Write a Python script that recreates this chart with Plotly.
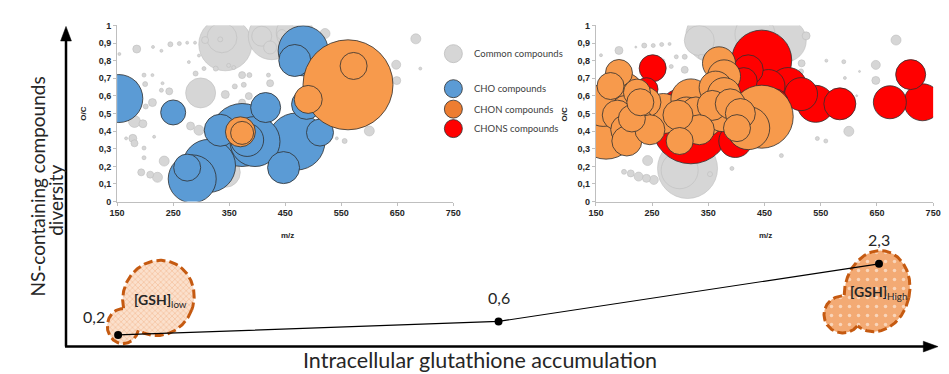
import numpy as np
import plotly.graph_objects as go

W, H = 949, 374

# ---------------- DATA ----------------
# Bubble panels: (m/z, O/C, relative abundance)
LOW_COMMON = [
    (343, 0.893, 53), (426, 0.939, 47), (467, 0.958, 37), (299, 0.617, 30), (343, 0.166, 30),
    (337, 0.930, 30), (408, 0.939, 20), (423, 0.875, 13), (185, 0.866, 8), (154, 0.838, 3),
    (214, 0.878, 3), (229, 0.856, 3), (245, 0.893, 5), (261, 0.897, 4), (275, 0.902, 3),
    (289, 0.902, 3), (307, 0.917, 7), (334, 0.921, 5), (521, 0.954, 10), (683, 0.924, 10),
    (648, 0.777, 9), (649, 0.687, 8), (691, 0.755, 3), (600, 0.401, 10), (556, 0.344, 5),
    (542, 0.359, 3), (180, 0.667, 7), (200, 0.667, 5), (198, 0.718, 4), (213, 0.718, 3),
    (231, 0.672, 3), (243, 0.626, 7), (229, 0.632, 4), (213, 0.562, 8), (163, 0.562, 3),
    (181, 0.455, 12), (196, 0.442, 8), (201, 0.540, 5), (178, 0.359, 8), (181, 0.331, 7),
    (198, 0.304, 4), (216, 0.368, 3), (281, 0.429, 8), (296, 0.405, 10), (193, 0.166, 7),
    (209, 0.153, 7), (222, 0.138, 10), (234, 0.230, 10), (198, 0.249, 4), (296, 0.304, 4),
    (290, 0.727, 5), (305, 0.755, 4), (278, 0.792, 3), (296, 0.829, 3), (326, 0.755, 5),
    (349, 0.773, 4), (358, 0.761, 4), (373, 0.718, 7), (386, 0.718, 5), (343, 0.608, 8),
    (360, 0.654, 5), (376, 0.663, 5), (385, 0.599, 7), (373, 0.562, 7), (420, 0.718, 4),
    (423, 0.672, 7), (491, 0.958, 10), (444, 0.948, 10), (166, 0.359, 3),
]
LOW_CHO = [
    (153, 0.585, 48), (250, 0.506, 25), (482, 0.856, 50), (467, 0.801, 32), (415, 0.534, 30),
    (488, 0.552, 30), (512, 0.392, 27), (334, 0.405, 32), (373, 0.378, 63), (396, 0.341, 50),
    (382, 0.350, 33), (470, 0.341, 57), (447, 0.193, 32), (314, 0.203, 53), (284, 0.129, 48),
    (275, 0.193, 27),
]
LOW_CHON = [
    (562, 0.663, 90), (572, 0.770, 27), (491, 0.580, 28), (370, 0.396, 30), (373, 0.390, 23),
]

HIGH_COMMON = [
    (357, 0.941, 53), (433, 0.950, 40), (486, 0.914, 43), (313, 0.188, 60), (299, 0.178, 37),
    (334, 0.914, 30), (524, 0.941, 8), (191, 0.858, 8), (159, 0.831, 3), (221, 0.877, 2),
    (236, 0.886, 5), (252, 0.886, 4), (267, 0.892, 4), (281, 0.895, 3), (293, 0.822, 4),
    (308, 0.822, 5), (284, 0.767, 4), (270, 0.800, 3), (200, 0.169, 5), (212, 0.160, 7),
    (226, 0.142, 9), (240, 0.132, 8), (253, 0.123, 9), (242, 0.233, 10), (353, 0.156, 5),
    (392, 0.188, 4), (480, 0.261, 4), (544, 0.358, 4), (559, 0.344, 4), (600, 0.399, 10),
    (648, 0.776, 9), (648, 0.688, 8), (684, 0.917, 10), (619, 0.739, 2), (593, 0.702, 3),
    (560, 0.800, 3), (591, 0.794, 4), (614, 0.601, 2), (516, 0.785, 7), (515, 0.739, 5),
    (308, 0.748, 7), (337, 0.822, 5),
]
HIGH_CHONS = [
    (445, 0.803, 60), (421, 0.748, 30), (251, 0.757, 27), (319, 0.436, 78), (240, 0.638, 23),
    (398, 0.344, 33), (492, 0.656, 37), (515, 0.610, 33), (541, 0.555, 37), (584, 0.555, 32),
    (710, 0.721, 30), (673, 0.564, 33), (731, 0.564, 37), (457, 0.656, 33), (413, 0.684, 27),
    (468, 0.564, 27),
]
HIGH_CHON = [
    (168, 0.417, 62), (163, 0.546, 42), (191, 0.730, 27), (205, 0.642, 30), (223, 0.619, 27),
    (239, 0.564, 30), (203, 0.518, 30), (188, 0.491, 30), (214, 0.472, 27), (203, 0.408, 30),
    (226, 0.445, 30), (205, 0.344, 30), (246, 0.408, 30), (270, 0.500, 40), (299, 0.344, 27),
    (319, 0.583, 40), (311, 0.500, 33), (328, 0.509, 30), (346, 0.463, 33), (357, 0.546, 30),
    (369, 0.785, 33), (378, 0.711, 33), (363, 0.647, 33), (378, 0.610, 33), (389, 0.555, 30),
    (334, 0.408, 30), (375, 0.491, 33), (401, 0.417, 27), (407, 0.500, 30), (445, 0.482, 63),
    (421, 0.417, 43), (296, 0.491, 30), (229, 0.564, 27), (176, 0.656, 27),
]

# Main schematic axis: glutathione level vs NS-compound diversity
CONDITIONS = ["[GSH]low", "intermediate", "[GSH]High"]
COND_POS = [1, 2, 3]
NS_DIVERSITY = [0.2, 0.6, 2.3]

MZ_TICKS = [150, 250, 350, 450, 550, 650, 750]

LEGEND_LABELS = ["Common compounds", "CHO compounds", "CHON compounds", "CHONS compounds"]

# ---------------- STYLE ----------------
GREY, GREY_LINE = "#d6d6d6", "#bdbdbd"
BLUE, ORANGE, RED = "#5b9bd5", "#f79a4c", "#ff0000"
DARK_LINE = "#2e2e2e"
TXT = "#262626"
SANS = "Liberation Sans"
HUM = "Lato"

X_RANGE = [0.7106, 3.163]
Y_RANGE = [-0.805, 9.943]


def px2x(p):
    return X_RANGE[0] + p / W * (X_RANGE[1] - X_RANGE[0])


def py2y(p):
    return Y_RANGE[1] - p / H * (Y_RANGE[1] - Y_RANGE[0])


def bubble(rows, color, line_color, line_w, xa, ya):
    rows = sorted(rows, key=lambda r: -r[2])
    return go.Scatter(
        x=[r[0] for r in rows], y=[r[1] for r in rows], mode="markers",
        xaxis=xa, yaxis=ya, hoverinfo="skip",
        marker=dict(size=[r[2] for r in rows], sizemode="diameter", sizeref=1,
                    color=color, opacity=1, line=dict(color=line_color, width=line_w)),
    )


fig = go.Figure()
fig.add_trace(bubble(LOW_COMMON, GREY, GREY_LINE, 0.6, "x", "y"))
fig.add_trace(bubble(LOW_CHO, BLUE, DARK_LINE, 0.8, "x", "y"))
fig.add_trace(bubble(LOW_CHON, ORANGE, DARK_LINE, 0.8, "x", "y"))
fig.add_trace(bubble(HIGH_COMMON, GREY, GREY_LINE, 0.6, "x2", "y2"))
fig.add_trace(bubble(HIGH_CHONS, RED, DARK_LINE, 0.8, "x2", "y2"))
fig.add_trace(bubble(HIGH_CHON, ORANGE, DARK_LINE, 0.8, "x2", "y2"))


# ---------------- blobs (decoration, pixel geometry) ----------------
def ellipse_px(e, n=240):
    cx, cy, rx, ry, rot = e
    t = np.linspace(0, 2 * np.pi, n, endpoint=False)
    r = np.deg2rad(rot)
    x = cx + rx * np.cos(t) * np.cos(r) - ry * np.sin(t) * np.sin(r)
    y = cy + rx * np.cos(t) * np.sin(r) + ry * np.sin(t) * np.cos(r)
    return x, y


def inside(px_, py_, e):
    cx, cy, rx, ry, rot = e
    r = np.deg2rad(rot)
    dx, dy = px_ - cx, py_ - cy
    u = dx * np.cos(r) + dy * np.sin(r)
    v = -dx * np.sin(r) + dy * np.cos(r)
    return (u / rx) ** 2 + (v / ry) ** 2 < 1.0


def add_blob(ellipses, pattern):
    for e in ellipses:
        x, y = ellipse_px(e)
        fig.add_trace(go.Scatter(
            x=list(px2x(np.append(x, x[0]))), y=list(py2y(np.append(y, y[0]))),
            mode="lines", fill="toself", line=dict(width=0), fillcolor=pattern["bgcolor"],
            fillpattern=pattern, xaxis="x3", yaxis="y3", hoverinfo="skip"))
    for i, e in enumerate(ellipses):
        x, y = ellipse_px(e)
        keep = np.ones(len(x), dtype=bool)
        for j, o in enumerate(ellipses):
            if j != i:
                keep &= ~inside(x, y, o)
        xs, ys = [], []
        for k in range(len(x) + 1):
            kk = k % len(x)
            if keep[kk]:
                xs.append(px2x(x[kk]))
                ys.append(py2y(y[kk]))
            else:
                xs.append(None)
                ys.append(None)
        fig.add_trace(go.Scatter(
            x=xs, y=ys, mode="lines", connectgaps=False,
            line=dict(color="#c55a11", width=3, dash="9px,4px"),
            xaxis="x3", yaxis="y3", hoverinfo="skip"))


LOW_BLOB = [(153, 301, 36, 39, 20), (117, 330, 16, 18, 0)]
HIGH_BLOB = [(884, 294, 33, 42, 12), (849, 318, 19, 19, 0)]
add_blob(LOW_BLOB, dict(shape="x", bgcolor="#fbe0cc", fgcolor="#eea574", size=4, solidity=0.35))
add_blob(HIGH_BLOB, dict(shape=".", bgcolor="#f3aa74", fgcolor="#ffffff", size=9, solidity=0.12))

fig.add_trace(go.Scatter(
    x=COND_POS, y=NS_DIVERSITY, mode="lines+markers", xaxis="x3", yaxis="y3",
    line=dict(color="black", width=1.2), marker=dict(color="black", size=8),
    hoverinfo="skip"))

# ---------------- layout ----------------
tickfont = dict(family=SANS, size=9, color=TXT, weight="bold")
common_x = dict(range=[150, 750], tickvals=MZ_TICKS, ticks="outside", ticklen=3,
                tickcolor="#bfbfbf", showline=True, linecolor="#bfbfbf", linewidth=1,
                showgrid=False, zeroline=False, tickfont=tickfont, fixedrange=True)
common_y = dict(range=[0, 1], tick0=0, dtick=0.1, ticks="outside", ticklen=3,
                tickcolor="#bfbfbf", showline=True, linecolor="#bfbfbf", linewidth=1,
                showgrid=False, zeroline=False, tickfont=tickfont, fixedrange=True)

ydom = [1 - 202 / H, 1 - 21 / H]
fig.update_layout(
    width=W, height=H, margin=dict(l=0, r=0, t=0, b=0),
    paper_bgcolor="white", plot_bgcolor="rgba(0,0,0,0)", showlegend=False,
    separators=", ",
    xaxis=dict(domain=[111 / W, 453 / W], anchor="y", **common_x),
    yaxis=dict(domain=ydom, anchor="x", **common_y),
    xaxis2=dict(domain=[598 / W, 941 / W], anchor="y2", **common_x),
    yaxis2=dict(domain=ydom, anchor="x2", **common_y),
    xaxis3=dict(domain=[0, 1], range=X_RANGE, anchor="y3", visible=False, fixedrange=True),
    yaxis3=dict(domain=[0, 1], range=Y_RANGE, anchor="x3", visible=False, fixedrange=True),
)


def P(x, y):
    return x / W, 1 - y / H


ann = []
shapes = []
# axis lines with arrow heads
lw = 2.5
x0, y0 = P(59, 351)
x1, y1 = P(59, 36)
shapes.append(dict(type="line", xref="paper", yref="paper", x0=x0, y0=y0, x1=x1, y1=y1,
                   line=dict(color="black", width=lw)))
x1, y1 = P(932, 351)
shapes.append(dict(type="line", xref="paper", yref="paper", x0=P(58, 0)[0], y0=y0, x1=x1, y1=y1,
                   line=dict(color="black", width=lw)))
tri_v = [P(59, 22), P(53.5, 37), P(64.5, 37)]
tri_h = [P(946, 351), P(931, 345.5), P(931, 356.5)]
for tri in (tri_v, tri_h):
    path = "M {} {} L {} {} L {} {} Z".format(tri[0][0], tri[0][1], tri[1][0], tri[1][1],
                                            tri[2][0], tri[2][1])
    shapes.append(dict(type="path", xref="paper", yref="paper", path=path,
                       fillcolor="black", line=dict(color="black", width=0.5)))


def label(cx, cy, text, font, angle=0, xanchor="center"):
    x, y = P(cx, cy)
    ann.append(dict(x=x, y=y, xref="paper", yref="paper", showarrow=False, text=text,
                    textangle=angle, xanchor=xanchor, yanchor="middle", font=font))


# main axis titles
big = dict(family=HUM, size=19, color=TXT)
label(29, 187, "NS-containing compounds", big, -90)
label(48, 201, "diversity", big, -90)
label(480, 365, "Intracellular glutathione accumulation", dict(family=HUM, size=21.5, color=TXT))
# value labels
shifts = [(-24, 18), (0, 24), (0, 24)]
for xv, yv, (dx, dy) in zip(COND_POS, NS_DIVERSITY, shifts):
    ann.append(dict(x=xv, y=yv, xref="x3", yref="y3", xshift=dx, yshift=dy, showarrow=False,
                    xanchor="center", yanchor="middle",
                    text=f"{yv:.1f}".replace(".", ","), font=dict(family=HUM, size=16, color=TXT)))
# GSH labels
label(155, 304, "<b>[GSH]</b><sub>low</sub>", dict(family=HUM, size=14, color=TXT))
label(885, 295, "<b>[GSH]</b><sub>High</sub>", dict(family=HUM, size=14, color=TXT))
# small axis titles
small = dict(family=SANS, size=8, color=TXT, weight="bold")
label(76, 112, "O/C", small, -90)
label(566, 112, "O/C", small, -90)
label(284, 237, "m/z", small)
label(770, 237, "m/z", small)

# manual legend
leg_y = [50, 86, 107, 127]
leg_fill = [GREY, BLUE, "#ed7d31", RED]
leg_line = [GREY_LINE, DARK_LINE, DARK_LINE, DARK_LINE]
for lab, yy, fc, lc in zip(LEGEND_LABELS, leg_y, leg_fill, leg_line):
    x, y = P(453, yy)
    shapes.append(dict(type="circle", xref="paper", yref="paper", xsizemode="pixel",
                       ysizemode="pixel", xanchor=x, yanchor=y, x0=-9, x1=9, y0=-9, y1=9,
                       fillcolor=fc, line=dict(color=lc, width=0.8)))
    label(472, yy, lab, dict(family=HUM, size=9.5, color="#404040"), xanchor="left")

fig.update_layout(annotations=ann, shapes=shapes)
fig.write_html(
    "out.html", config={"displayModeBar": False},
    post_script=("document.documentElement.style.margin='0';"
                 "document.documentElement.style.overflow='hidden';"
                 "document.body.style.margin='0';document.body.style.padding='0';"
                 "document.body.style.overflow='hidden';"))
